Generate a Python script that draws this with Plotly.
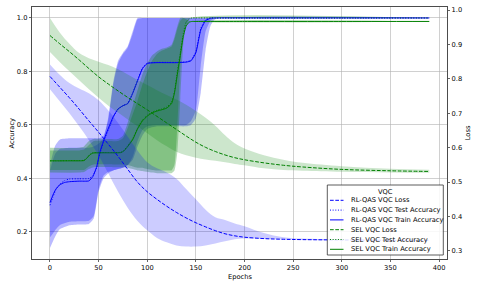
import plotly.graph_objects as go

# ---------------- data ----------------
loss_epochs = [0, 10, 20, 30, 40, 50, 60, 70, 80, 90, 100, 110, 120, 130, 140, 150, 160, 170, 180, 190, 200, 220, 240, 260, 300, 350, 390]

rl_loss = [0.807, 0.776, 0.745, 0.712, 0.678, 0.645, 0.610, 0.575, 0.537, 0.500, 0.472, 0.450, 0.430, 0.412, 0.396, 0.382, 0.370, 0.359, 0.350, 0.344, 0.340, 0.336, 0.334, 0.333, 0.332, 0.331, 0.331]
rl_loss_hi = [0.842, 0.812, 0.788, 0.772, 0.758, 0.738, 0.708, 0.672, 0.632, 0.592, 0.558, 0.540, 0.528, 0.510, 0.480, 0.450, 0.420, 0.398, 0.390, 0.380, 0.372, 0.352, 0.340, 0.336, 0.333, 0.332, 0.332]
rl_loss_lo = [0.770, 0.735, 0.700, 0.662, 0.622, 0.578, 0.525, 0.472, 0.425, 0.387, 0.360, 0.338, 0.325, 0.316, 0.313, 0.313, 0.316, 0.322, 0.328, 0.334, 0.336, 0.335, 0.333, 0.332, 0.331, 0.330, 0.330]

sel_loss = [0.926, 0.902, 0.879, 0.855, 0.830, 0.806, 0.785, 0.765, 0.746, 0.728, 0.710, 0.691, 0.672, 0.653, 0.634, 0.616, 0.601, 0.589, 0.579, 0.571, 0.565, 0.556, 0.549, 0.544, 0.537, 0.533, 0.531]
sel_loss_hi = [0.977, 0.935, 0.902, 0.875, 0.860, 0.850, 0.840, 0.828, 0.813, 0.797, 0.782, 0.767, 0.753, 0.740, 0.725, 0.707, 0.687, 0.664, 0.636, 0.613, 0.598, 0.578, 0.565, 0.556, 0.546, 0.539, 0.536]
sel_loss_lo = [0.878, 0.849, 0.822, 0.796, 0.770, 0.745, 0.722, 0.702, 0.682, 0.662, 0.642, 0.622, 0.604, 0.588, 0.578, 0.571, 0.566, 0.562, 0.558, 0.553, 0.549, 0.540, 0.535, 0.533, 0.530, 0.528, 0.527]

rl_acc_epochs = [0, 3, 6, 10, 15, 20, 30, 40, 44, 48, 51, 55, 58, 62, 65, 70, 75, 80, 85, 90, 95, 100, 110, 120, 130, 140, 145, 150, 155, 160, 165, 170, 200, 300, 390]
rl_train_acc = [0.31, 0.338, 0.36, 0.376, 0.385, 0.388, 0.39, 0.391, 0.407, 0.444, 0.494, 0.54, 0.569, 0.605, 0.631, 0.66, 0.672, 0.68, 0.718, 0.765, 0.81, 0.83, 0.833, 0.833, 0.833, 0.835, 0.84, 0.87, 0.955, 0.99, 0.999, 1.0, 1.0, 1.0, 1.0]
rl_test_acc = [0.30, 0.33, 0.358, 0.378, 0.392, 0.398, 0.399, 0.400, 0.41, 0.44, 0.49, 0.535, 0.565, 0.60, 0.628, 0.658, 0.672, 0.682, 0.72, 0.767, 0.812, 0.831, 0.834, 0.834, 0.834, 0.836, 0.842, 0.875, 0.96, 0.993, 1.0, 1.0, 1.0, 1.0, 1.0]

rl_band_epochs = [0, 5, 10, 20, 30, 40, 45, 50, 55, 60, 65, 70, 75, 80, 85, 90, 95, 100, 110, 120, 130, 140, 145, 150, 155, 160, 165, 170, 390]
rl_train_hi = [0.43, 0.49, 0.51, 0.515, 0.515, 0.515, 0.52, 0.53, 0.55, 0.63, 0.76, 0.84, 0.87, 0.895, 0.95, 1.0, 1.0, 1.0, 1.0, 1.0, 1.0, 1.0, 1.0, 1.0, 1.0, 1.0, 1.0, 1.0, 1.0]
rl_train_lo = [0.18, 0.205, 0.225, 0.238, 0.24, 0.242, 0.26, 0.36, 0.41, 0.425, 0.43, 0.435, 0.44, 0.45, 0.48, 0.54, 0.58, 0.595, 0.6, 0.6, 0.6, 0.6, 0.615, 0.655, 0.82, 0.95, 0.99, 1.0, 1.0]
rl_test_hi = [0.45, 0.52, 0.545, 0.55, 0.55, 0.55, 0.55, 0.55, 0.56, 0.62, 0.75, 0.83, 0.865, 0.89, 0.94, 0.995, 1.0, 1.0, 1.0, 1.0, 1.0, 1.0, 1.0, 1.0, 1.0, 1.0, 1.0, 1.0, 1.0]
rl_test_lo = [0.14, 0.18, 0.21, 0.225, 0.228, 0.23, 0.25, 0.35, 0.40, 0.42, 0.43, 0.435, 0.44, 0.45, 0.47, 0.52, 0.56, 0.585, 0.595, 0.595, 0.595, 0.595, 0.6, 0.625, 0.72, 0.88, 0.97, 0.995, 1.0]

sel_acc_epochs = [0, 10, 20, 30, 35, 38, 41, 44, 50, 60, 70, 73, 76, 80, 85, 90, 95, 100, 105, 110, 115, 120, 125, 128, 131, 134, 137, 140, 143, 146, 150, 200, 300, 390]
sel_train_acc = [0.466, 0.466, 0.466, 0.466, 0.467, 0.476, 0.488, 0.495, 0.496, 0.496, 0.496, 0.497, 0.503, 0.52, 0.545, 0.585, 0.615, 0.633, 0.645, 0.652, 0.657, 0.663, 0.68, 0.72, 0.79, 0.86, 0.93, 0.97, 0.984, 0.987, 0.987, 0.987, 0.987, 0.987]
sel_test_acc = [0.466, 0.466, 0.467, 0.467, 0.468, 0.478, 0.49, 0.496, 0.497, 0.497, 0.497, 0.498, 0.505, 0.523, 0.548, 0.588, 0.618, 0.636, 0.648, 0.655, 0.66, 0.667, 0.685, 0.725, 0.8, 0.87, 0.94, 0.985, 0.997, 1.0, 1.0, 1.0, 1.0, 1.0]

sel_band_epochs = [0, 30, 35, 40, 45, 70, 75, 80, 85, 90, 95, 100, 105, 110, 115, 120, 125, 128, 131, 134, 137, 140, 145, 390]
sel_train_hi = [0.505, 0.505, 0.508, 0.525, 0.54, 0.54, 0.55, 0.59, 0.64, 0.69, 0.75, 0.80, 0.84, 0.865, 0.878, 0.885, 0.893, 0.92, 0.96, 0.99, 1.0, 0.995, 0.987, 0.987]
sel_train_lo = [0.432, 0.432, 0.432, 0.445, 0.452, 0.452, 0.452, 0.45, 0.445, 0.44, 0.44, 0.435, 0.432, 0.43, 0.43, 0.43, 0.43, 0.45, 0.6, 0.82, 0.94, 0.975, 0.987, 0.987]
sel_test_hi = [0.515, 0.515, 0.52, 0.54, 0.548, 0.548, 0.56, 0.61, 0.67, 0.73, 0.79, 0.83, 0.86, 0.875, 0.885, 0.89, 0.9, 0.93, 0.97, 1.0, 1.0, 1.0, 1.0, 1.0]
sel_test_lo = [0.422, 0.422, 0.424, 0.435, 0.442, 0.442, 0.442, 0.44, 0.435, 0.43, 0.428, 0.425, 0.422, 0.42, 0.42, 0.42, 0.42, 0.43, 0.5, 0.7, 0.9, 0.97, 1.0, 1.0]

x_ticks = [0, 50, 100, 150, 200, 250, 300, 350, 400]
acc_ticks = [0.2, 0.4, 0.6, 0.8, 1.0]
loss_ticks = [0.3, 0.4, 0.5, 0.6, 0.7, 0.8, 0.9, 1.0]

legend_title = "VQC"
legend_names = ["RL-QAS VQC Loss", "RL-QAS VQC Test Accuracy", "RL-QAS VQC Train Accuracy",
                "SEL VQC Loss", "SEL VQC Test Accuracy", "SEL VQC Train Accuracy"]

# ---------------- styling ----------------
BLUE = "#0000ff"
GREEN = "#008000"
FONT = "DejaVu Sans"
FS = 6.7
LW = 1.0
DASH = "3.7px,1.6px"
DOT = "1px,1.65px"
legend_colors = [BLUE, BLUE, BLUE, GREEN, GREEN, GREEN]
legend_dashes = [DASH, DOT, "solid", DASH, DOT, "solid"]

# plot-area geometry in pixels (for the hand-drawn legend and axis titles)
W, H = 478, 287
L, R, T, B = 32, 31, 7, 28
PW, PH = W - L - R, H - T - B


def px_x(px):
    return (px - L) / PW


def px_y(py):
    return (H - B - py) / PH


fig = go.Figure()


def band(xs, lo, hi, color, yaxis, sm):
    fig.add_trace(go.Scatter(x=xs, y=lo, mode="lines", line=dict(width=0, shape="spline", smoothing=sm),
                             yaxis=yaxis, showlegend=False, hoverinfo="skip"))
    fig.add_trace(go.Scatter(x=xs, y=hi, mode="lines", line=dict(width=0, shape="spline", smoothing=sm),
                             fill="tonexty", fillcolor=color, yaxis=yaxis, showlegend=False, hoverinfo="skip"))


def line(xs, ys, color, dash, name, yaxis, sm):
    fig.add_trace(go.Scatter(x=xs, y=ys, mode="lines", name=name, yaxis=yaxis, showlegend=False,
                             line=dict(color=color, width=LW, dash=dash, shape="spline", smoothing=sm)))


# accuracy (left axis)
band(rl_band_epochs, rl_test_lo, rl_test_hi, "rgba(0,0,255,0.27)", "y", 0.5)
band(rl_band_epochs, rl_train_lo, rl_train_hi, "rgba(0,0,255,0.27)", "y", 0.5)
band(sel_band_epochs, sel_test_lo, sel_test_hi, "rgba(0,128,0,0.28)", "y", 0.5)
band(sel_band_epochs, sel_train_lo, sel_train_hi, "rgba(0,128,0,0.28)", "y", 0.5)
line(rl_acc_epochs, rl_test_acc, BLUE, DOT, legend_names[1], "y", 0.5)
line(rl_acc_epochs, rl_train_acc, BLUE, "solid", legend_names[2], "y", 0.5)
line(sel_acc_epochs, sel_test_acc, GREEN, DOT, legend_names[4], "y", 0.5)
line(sel_acc_epochs, sel_train_acc, GREEN, "solid", legend_names[5], "y", 0.5)

# loss (right axis)
band(loss_epochs, rl_loss_lo, rl_loss_hi, "rgba(0,0,255,0.2)", "y2", 1.0)
band(loss_epochs, sel_loss_lo, sel_loss_hi, "rgba(0,128,0,0.2)", "y2", 1.0)
line(loss_epochs, rl_loss, BLUE, DASH, legend_names[0], "y2", 1.0)
line(loss_epochs, sel_loss, GREEN, DASH, legend_names[3], "y2", 1.0)

# ---------------- legend (matplotlib-like, compact) ----------------
shapes = [dict(type="rect", xref="paper", yref="paper", x0=px_x(327.3), x1=px_x(443.3),
               y0=px_y(255), y1=px_y(185), line=dict(color="#333333", width=0.8),
               fillcolor="rgba(255,255,255,0.85)", layer="above")]
annotations = [dict(text=legend_title, xref="paper", yref="paper", x=px_x(385.3), y=px_y(191.5),
                    xanchor="center", yanchor="middle", showarrow=False,
                    font=dict(family=FONT, size=FS, color="black"))]
row_y = [200.3, 210.1, 219.9, 229.7, 239.5, 249.3]
for name, col, dsh, ry in zip(legend_names, legend_colors, legend_dashes, row_y):
    shapes.append(dict(type="line", xref="paper", yref="paper", x0=px_x(330), x1=px_x(343.5),
                       y0=px_y(ry), y1=px_y(ry), line=dict(color=col, width=LW, dash=dsh), layer="above"))
    annotations.append(dict(text=name, xref="paper", yref="paper", x=px_x(348.5), y=px_y(ry),
                            xanchor="left", yanchor="middle", showarrow=False,
                            font=dict(family=FONT, size=FS, color="black")))

# axis titles
annotations += [
    dict(text="Epochs", xref="paper", yref="paper", x=0.5, y=px_y(276.5), xanchor="center",
         yanchor="middle", showarrow=False, font=dict(family=FONT, size=FS, color="black")),
    dict(text="Accuracy", xref="paper", yref="paper", x=px_x(11.5), y=0.5, xanchor="center",
         yanchor="middle", textangle=-90, showarrow=False, font=dict(family=FONT, size=FS, color="black")),
    dict(text="Loss", xref="paper", yref="paper", x=px_x(468.3), y=0.5, xanchor="center",
         yanchor="middle", textangle=-90, showarrow=False, font=dict(family=FONT, size=FS, color="black")),
]

tickfont = dict(family=FONT, size=FS, color="black")
fig.update_layout(
    template="none",
    width=W, height=H,
    margin=dict(l=L, r=R, t=T, b=B, pad=0, autoexpand=False),
    paper_bgcolor="white", plot_bgcolor="white",
    font=dict(family=FONT, size=FS, color="black"),
    showlegend=False,
    hovermode=False,
    xaxis=dict(range=[-18.5, 408.2], tickvals=x_ticks, ticks="outside", ticklen=2.5, tickwidth=0.6,
               tickcolor="black", tickfont=tickfont, showgrid=True, gridcolor="#b0b0b0", gridwidth=0.6,
               showline=True, linecolor="black", linewidth=0.7, mirror=True, zeroline=False, automargin=False),
    yaxis=dict(range=[0.099, 1.041], tickvals=acc_ticks, tickformat=".1f", ticks="outside", ticklen=2.5,
               tickwidth=0.6, tickcolor="black", tickfont=tickfont, showgrid=True, gridcolor="#b0b0b0",
               gridwidth=0.6, showline=True, linecolor="black", linewidth=0.7, zeroline=False, automargin=False),
    yaxis2=dict(range=[0.2767, 1.0088], tickvals=loss_ticks, tickformat=".1f", overlaying="y", side="right",
                ticks="outside", ticklen=2.5, tickwidth=0.6, tickcolor="black", tickfont=tickfont,
                showgrid=False, showline=True, linecolor="black", linewidth=0.7, zeroline=False, automargin=False),
    shapes=shapes,
    annotations=annotations,
)

# remove the browser's default page margin so the figure sits at the window's top-left corner
fig.write_html("out.html", config={"displayModeBar": False, "staticPlot": True},
               post_script="document.body.style.margin='0px';document.body.style.overflow='hidden';")
